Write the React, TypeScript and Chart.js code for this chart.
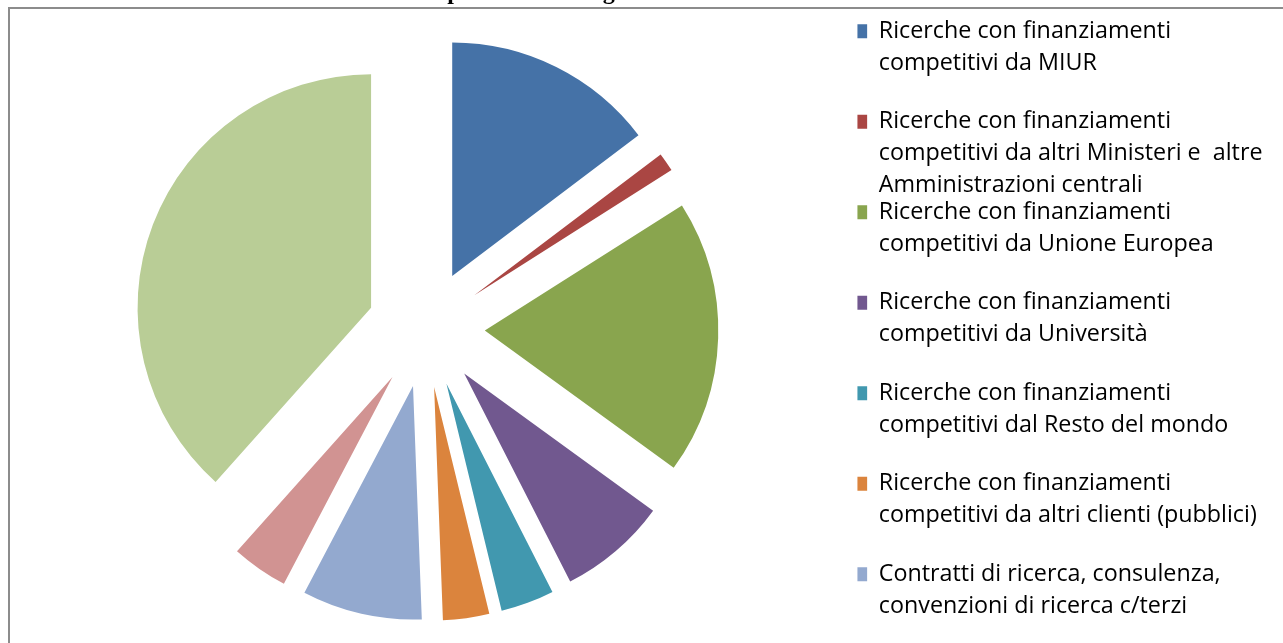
import { useEffect, useRef } from 'react';
import { Chart, registerables } from 'chart.js';

Chart.register(...registerables);

// ---- data ----
const categories: string[][] = [
  ['Ricerche con finanziamenti', 'competitivi da MIUR'],
  ['Ricerche con finanziamenti', 'competitivi da altri Ministeri e  altre', 'Amministrazioni centrali'],
  ['Ricerche con finanziamenti', 'competitivi da Unione Europea'],
  ['Ricerche con finanziamenti', 'competitivi da Università'],
  ['Ricerche con finanziamenti', 'competitivi dal Resto del mondo'],
  ['Ricerche con finanziamenti', 'competitivi da altri clienti (pubblici)'],
  ['Contratti di ricerca, consulenza,', 'convenzioni di ricerca c/terzi'],
  ['Finanziamenti non competitivi', 'per la ricerca'],
  ['Altre entrate per la ricerca'],
];
const shares: number[] = [14.7, 1.3, 19.0, 7.5, 3.7, 3.2, 8.3, 3.9, 38.4];
const colors: string[] = ['#4572A7', '#AA4643', '#89A54E', '#71588F', '#4198AF', '#DB843D', '#93A9CF', '#D19392', '#B9CD96'];
const titleText = 'Entrate per ricerca: origine dei fondi e loro struttura';

// ---- geometry / style ----
const RADIUS = 233.5;
const EXPLODE = 58.8; // every slice pulled out along its bisector
const LEGEND_FONT = 23.3;
const LEGEND_LINE = 31.6;
const LEGEND_PAD = -4.3;

// Exploded pie: move each library arc outward along its own bisector
const explode = {
  id: 'explode',
  beforeDatasetsDraw(chart: any) {
    const { left, right, top, bottom } = chart.chartArea;
    const cx = (left + right) / 2;
    const cy = (top + bottom) / 2;
    chart.getDatasetMeta(0).data.forEach((arc: any) => {
      const mid = (arc.startAngle + arc.endAngle) / 2;
      arc.x = cx + EXPLODE * Math.cos(mid);
      arc.y = cy + EXPLODE * Math.sin(mid);
    });
  },
};

export default function App() {
  const ref = useRef<HTMLCanvasElement>(null);

  useEffect(() => {
    if (!ref.current) return;
    const chart = new Chart(ref.current, {
      type: 'pie',
      data: {
        labels: categories,
        datasets: [
          {
            data: shares,
            backgroundColor: colors,
            borderWidth: 0,
            offset: 0,
            hoverOffset: 0,
            radius: RADIUS,
            clip: false,
          } as any,
        ],
      },
      options: {
        animation: false,
        responsive: false,
        events: [],
        layout: { padding: { left: 14.6, right: 107.5, top: 0, bottom: 0 } },
        plugins: {
          title: {
            display: true,
            text: titleText,
            color: '#000',
            font: { family: 'Liberation Serif', size: 24, weight: 'bold', lineHeight: 1.2 },
            padding: { top: 0, bottom: 0 },
          },
          subtitle: {
            display: true,
            position: 'bottom',
            text: ' ',
            font: { size: 10, lineHeight: 1 },
            padding: { top: 317.4, bottom: 0 },
          },
          legend: {
            position: 'right',
            align: 'start',
            title: {
              display: true,
              text: ' ',
              font: { size: 10, lineHeight: 1 },
              padding: { top: 36, bottom: 0 },
            },
            labels: {
              boxWidth: 14,
              boxHeight: 14,
              padding: LEGEND_PAD,
              color: '#000',
              font: { family: 'Open Sans', size: LEGEND_FONT, lineHeight: LEGEND_LINE / LEGEND_FONT },
              generateLabels: () =>
                categories.map((lines, i) => ({
                  text: [...lines, ...Array(Math.max(0, 3 - lines.length)).fill('')],
                  fillStyle: colors[i],
                  strokeStyle: colors[i],
                  lineWidth: 0,
                  hidden: false,
                  index: i,
                  fontColor: '#000',
                })) as any,
            },
          },
          tooltip: { enabled: false },
        },
      } as any,
      plugins: [explode],
    });
    return () => chart.destroy();
  }, []);

  return (
    <div
      style={{
        position: 'fixed',
        left: 0,
        top: 0,
        width: 1283,
        height: 643,
        overflow: 'hidden',
        background: '#fff',
      }}
    >
      <canvas ref={ref} width={1400} height={1000} style={{ position: 'absolute', left: -20, top: -22 }} />
      <div
        style={{
          position: 'absolute',
          left: 8,
          top: 7,
          right: -10,
          bottom: -10,
          borderLeft: '2px solid #8c8c8c',
          borderTop: '2px solid #8c8c8c',
          pointerEvents: 'none',
        }}
      />
    </div>
  );
}
